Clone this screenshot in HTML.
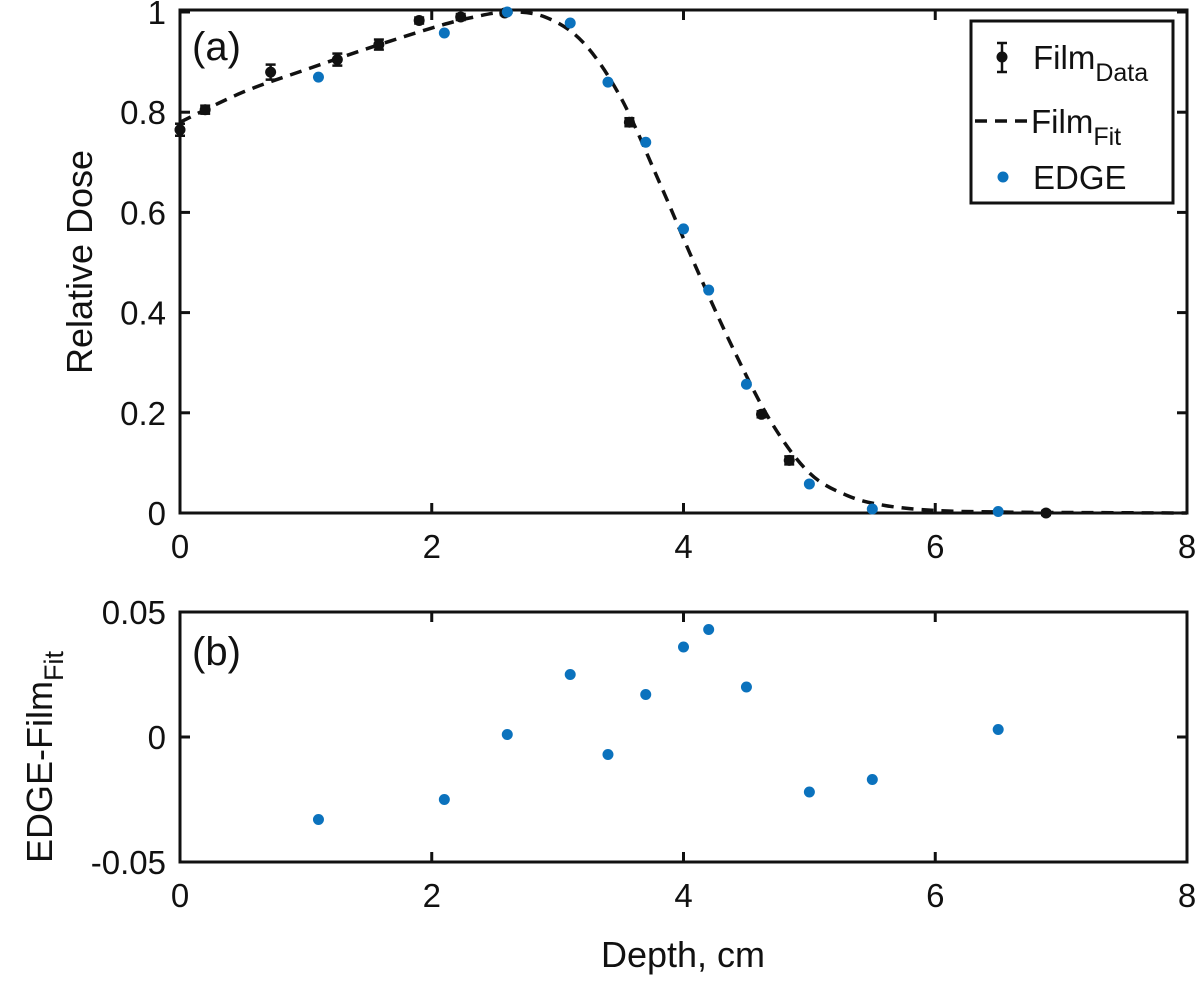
<!DOCTYPE html>
<html><head><meta charset="utf-8"><style>
body{margin:0;background:#fff}
svg text{font-family:"Liberation Sans",Arial,sans-serif;fill:#111}
</style></head><body>
<svg id="c" width="1200" height="985"></svg>
<script>
const filmX=[0,0.2,0.72,1.25,1.58,1.9,2.23,2.58,3.57,4.62,4.84,6.88];
const filmY=[0.765,0.805,0.88,0.905,0.935,0.983,0.99,0.998,0.78,0.197,0.105,0.0];
const filmErr=[0.012,0.008,0.015,0.012,0.01,0.006,0.006,0.004,0.008,0.006,0.008,0.004];
const fitX=[0,0.5,1,1.5,2,2.3,2.6,2.9,3.2,3.5,3.8,4.1,4.4,4.7,5,5.3,5.6,6,6.5,7,8];
const fitY=[0.78,0.84,0.885,0.928,0.968,0.988,1.0,0.99,0.94,0.83,0.665,0.49,0.325,0.18,0.08,0.035,0.015,0.005,0.002,0.001,0.0];
const edgeX=[1.1,2.1,2.6,3.1,3.4,3.7,4.0,4.2,4.5,5.0,5.5,6.5];
const edgeY=[0.87,0.958,1.0,0.978,0.86,0.74,0.567,0.445,0.257,0.058,0.008,0.003];
const resY=[-0.033,-0.025,0.001,0.025,-0.007,0.017,0.036,0.043,0.02,-0.022,-0.017,0.003];
const xTicks=[0,2,4,6,8];
const yTicksTop=[0,0.2,0.4,0.6,0.8,1];
const yTickLabelsTop=["0","0.2","0.4","0.6","0.8","1"];
const yTicksBot=[-0.05,0,0.05];
const yTickLabelsBot=["-0.05","0","0.05"];

const NS="http://www.w3.org/2000/svg",svg=document.getElementById('c');
function mk(t,a,p){const e=document.createElementNS(NS,t);for(const k in a)e.setAttribute(k,a[k]);(p||svg).appendChild(e);return e;}
const X0=180,X1=1187;
const sx=v=>X0+(v/8)*(X1-X0);
const syT=v=>513-v*501;
const syB=v=>737-v*2500;

function axes(top,bot,ys,yl,sy,name){
  const g=mk('g',{});
  
  
  xTicks.forEach(t=>{const x=sx(t);
    mk('line',{x1:x,x2:x,y1:bot,y2:bot-10,stroke:'#111','stroke-width':3},g);
    mk('line',{x1:x,x2:x,y1:top,y2:top+10,stroke:'#111','stroke-width':3},g);
    const tx=mk('text',{x:x,y:bot+45,'text-anchor':'middle','font-size':33},g);tx.textContent=t;
    
    
  });
  ys.forEach((t,i)=>{const y=sy(t);
    mk('line',{x1:X0,x2:X0+10,y1:y,y2:y,stroke:'#111','stroke-width':3},g);
    mk('line',{x1:X1,x2:X1-10,y1:y,y2:y,stroke:'#111','stroke-width':3},g);
    const tx=mk('text',{x:166,y:y+12,'text-anchor':'end','font-size':33},g);tx.textContent=yl[i];
    
    
  });
  mk('rect',{x:X0,y:top,width:X1-X0,height:bot-top,fill:'none',stroke:'#111','stroke-width':3},g);
}
axes(10,513,yTicksTop,yTickLabelsTop,syT,'top-axes');
axes(612,862,yTicksBot,yTickLabelsBot,syB,'bottom-axes');

let pts=fitX.map((x,i)=>[sx(x),syT(fitY[i])]);
let d='M'+pts[0][0]+','+pts[0][1];
for(let i=0;i<pts.length-1;i++){const p0=pts[Math.max(0,i-1)],p1=pts[i],p2=pts[i+1],p3=pts[Math.min(pts.length-1,i+2)];
  d+=` C${p1[0]+(p2[0]-p0[0])/6},${p1[1]+(p2[1]-p0[1])/6} ${p2[0]-(p3[0]-p1[0])/6},${p2[1]-(p3[1]-p1[1])/6} ${p2[0]},${p2[1]}`;}
const fit=mk('path',{d:d,fill:'none',stroke:'#111','stroke-width':3.5,'stroke-dasharray':'12,8'});



filmX.forEach((x,i)=>{const cx=sx(x),cy=syT(filmY[i]),e=filmErr[i]*501;
  const g=mk('g',{});
  
  
  mk('line',{x1:cx,x2:cx,y1:cy-e,y2:cy+e,stroke:'#111','stroke-width':2.5},g);
  mk('line',{x1:cx-5,x2:cx+5,y1:cy-e,y2:cy-e,stroke:'#111','stroke-width':2.5},g);
  mk('line',{x1:cx-5,x2:cx+5,y1:cy+e,y2:cy+e,stroke:'#111','stroke-width':2.5},g);
  mk('circle',{cx:cx,cy:cy,r:5.5,fill:'#111'},g);
});
edgeX.forEach((x,i)=>{
  const c=mk('circle',{cx:sx(x),cy:syT(edgeY[i]),r:5.5,fill:'#0b72bd'});
  
  
  const r=mk('circle',{cx:sx(x),cy:syB(resY[i]),r:5.5,fill:'#0b72bd'});
  
  
});
</script>
<svg width="1200" height="985" style="position:absolute;left:0;top:0">
<text x="192" y="60" font-size="40">(a)</text>
<text x="192" y="665" font-size="40">(b)</text>
<g>
<rect x="971" y="21" width="202" height="182" fill="#fff" stroke="#111" stroke-width="3"/>
<line x1="1002" y1="43" x2="1002" y2="72" stroke="#111" stroke-width="2.5"/>
<line x1="997" y1="43" x2="1007" y2="43" stroke="#111" stroke-width="2.5"/>
<line x1="997" y1="72" x2="1007" y2="72" stroke="#111" stroke-width="2.5"/>
<circle cx="1002" cy="57" r="5.5" fill="#111"/>
<text x="1033" y="69" font-size="33">Film<tspan font-size="25" dy="12">Data</tspan></text>
<line x1="975" y1="121" x2="1030" y2="121" stroke="#111" stroke-width="3.5" stroke-dasharray="12,8"/>
<text x="1031" y="133" font-size="33">Film<tspan font-size="25" dy="12">Fit</tspan></text>
<circle cx="1003" cy="177" r="5.5" fill="#0b72bd"/>
<text x="1033" y="189" font-size="33">EDGE</text>
</g>
<text transform="translate(92,262) rotate(-90)" text-anchor="middle" font-size="36">Relative Dose</text>
<text transform="translate(52,757) rotate(-90)" text-anchor="middle" font-size="36">EDGE-Film<tspan font-size="27" dy="11">Fit</tspan></text>
<text x="683" y="967" text-anchor="middle" font-size="36">Depth, cm</text>
</svg>
</body></html>
